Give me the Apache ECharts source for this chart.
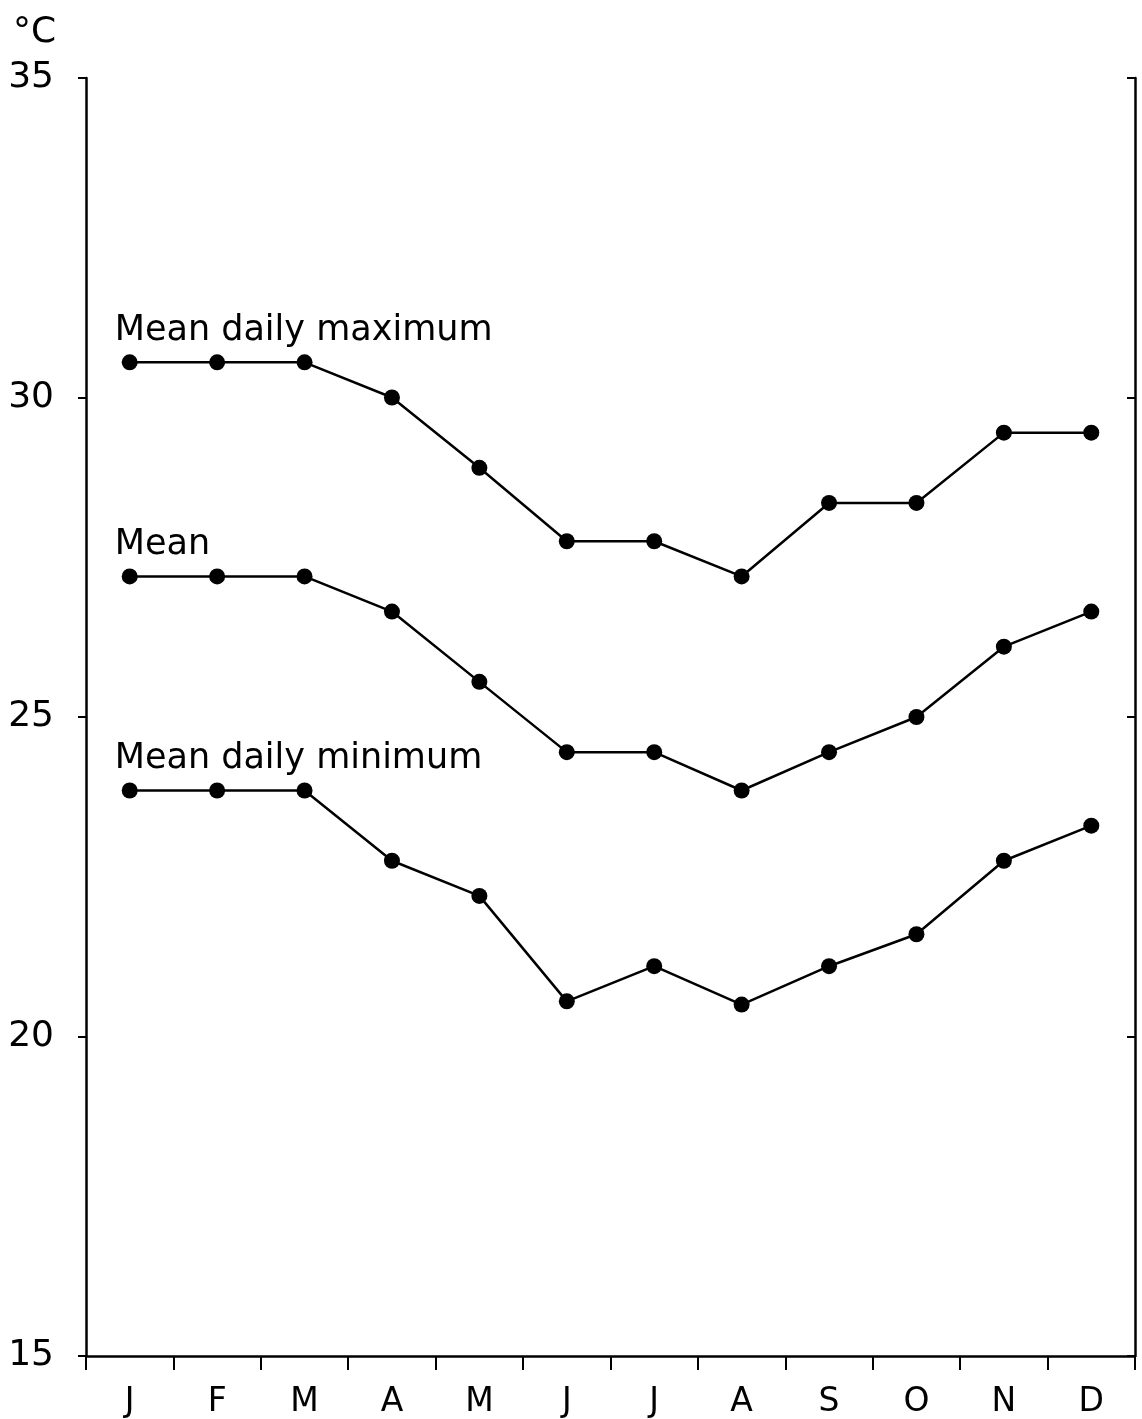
<!DOCTYPE html>
<html>
<head>
<meta charset="utf-8">
<script src="https://cdn.jsdelivr.net/npm/echarts@6/dist/echarts.min.js"></script>
<style>
  html, body { margin: 0; padding: 0; background: #fff; }
  #chart { width: 1142px; height: 1419px; }
</style>
</head>
<body>
<div id="chart"></div>
<script>
var months = ['J', 'F', 'M', 'A', 'M', 'J', 'J', 'A', 'S', 'O', 'N', 'D'];
var meanMax = [30.55, 30.55, 30.55, 30.0, 28.9, 27.75, 27.75, 27.2, 28.35, 28.35, 29.45, 29.45];
var meanTemp = [27.2, 27.2, 27.2, 26.65, 25.55, 24.45, 24.45, 23.85, 24.45, 25.0, 26.1, 26.65];
var meanMin = [23.85, 23.85, 23.85, 22.75, 22.2, 20.55, 21.1, 20.5, 21.1, 21.6, 22.75, 23.3];
var yTicks = [15, 20, 25, 30, 35];

var font = 'DejaVu Sans';
var chart = echarts.init(document.getElementById('chart'));

function lineSeries(name, values) {
    var data = values.map(function (v, i) {
        if (i === 0) {
            return {
                value: v,
                label: {
                    show: true,
                    formatter: name,
                    position: 'top',
                    align: 'left',
                    offset: [-15, 8],
                    color: '#000',
                    fontFamily: font,
                    fontSize: 35,
                    distance: 14
                }
            };
        }
        return v;
    });
    return {
        name: name,
        type: 'line',
        data: data,
        symbol: 'circle',
        symbolSize: 16,
        itemStyle: { color: '#000' },
        lineStyle: { color: '#000', width: 2.5 },
        label: { show: false },
        animation: false
    };
}

chart.setOption({
    backgroundColor: '#fff',
    title: {
        text: '°C',
        left: 8,
        top: 10,
        textStyle: { fontFamily: font, fontSize: 36, fontWeight: 'normal', color: '#000' }
    },
    grid: { left: 86, right: 7, top: 78, bottom: 63 },
    xAxis: {
        type: 'category',
        data: months,
        boundaryGap: true,
        axisLine: { lineStyle: { color: '#000', width: 2.5 } },
        axisTick: { show: true, length: 14, lineStyle: { color: '#000', width: 2 } },
        axisLabel: { color: '#000', fontFamily: font, fontSize: 33, margin: 30 }
    },
    yAxis: [
        {
            type: 'value',
            min: yTicks[0],
            max: yTicks[yTicks.length - 1],
            interval: 5,
            position: 'left',
            splitLine: { show: false },
            axisLine: { show: true, lineStyle: { color: '#000', width: 2.5 } },
            axisTick: { show: true, length: 8, lineStyle: { color: '#000', width: 2 } },
            axisLabel: { color: '#000', fontFamily: font, fontSize: 36, margin: 32 }
        },
        {
            type: 'value',
            min: yTicks[0],
            max: yTicks[yTicks.length - 1],
            interval: 5,
            position: 'right',
            splitLine: { show: false },
            axisLine: { show: true, lineStyle: { color: '#000', width: 2.5 } },
            axisTick: { show: true, inside: true, length: 8, lineStyle: { color: '#000', width: 2 } },
            axisLabel: { show: false }
        }
    ],
    series: [
        lineSeries('Mean daily maximum', meanMax),
        lineSeries('Mean', meanTemp),
        lineSeries('Mean daily minimum', meanMin)
    ]
});
</script>
</body>
</html>
